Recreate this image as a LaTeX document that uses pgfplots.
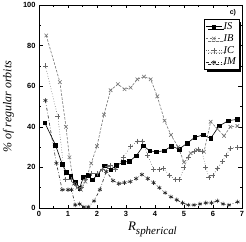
\documentclass[border=0pt]{standalone}
\usepackage{pgfplots}
\pgfplotsset{compat=1.18}
\usepackage{fontspec}
\setmainfont{Liberation Serif}
\newfontfamily\arial{Liberation Sans}
\usetikzlibrary{shadows}
\begin{document}
\begin{tikzpicture}
\path[use as bounding box] (-39bp,-34bp) rectangle (207bp,208bp);
\begin{axis}[
  scale only axis, width=203bp, height=203bp,
  xmin=0, xmax=7, ymin=0, ymax=100,
  xtick={0,1,...,7}, minor x tick num=1,
  ytick={0,20,...,100}, minor y tick num=1,
  tick align=inside, major tick length=3.5bp, minor tick length=2bp,
  tick style={black, line width=0.5pt},
  axis line style={line width=0.6pt},
  ticklabel style={font=\arial\bfseries\fontsize{7.5}{8}\selectfont},
  /pgf/number format/assume math mode=true,
  xlabel={\fontsize{13}{14}\selectfont\itshape R\textsubscript{\fontsize{11}{12}\selectfont spherical}},
  xlabel style={at={(axis description cs:0.56,-0.105)}, anchor=center},
  ylabel={\fontsize{12}{13}\selectfont\itshape \% of regular orbits},
  ylabel style={at={(axis description cs:-0.15,0.5)}, anchor=center},
  legend style={at={(0.985,0.93)}, anchor=north east, draw=black, fill=white,
    font=\fontsize{10.5}{11}\selectfont\itshape, row sep=0.5bp, inner sep=1.5bp,
    nodes={inner sep=1.5bp},
    /tikz/every even column/.style={column sep=0pt},
    drop shadow={shadow xshift=2.5bp, shadow yshift=-2.5bp, fill=black, opacity=1}},
  legend image code/.code={
    \draw[mark repeat=2,mark phase=2] plot coordinates {(0cm,0cm) (0.28cm,0cm) (0.56cm,0cm)};},
  legend cell align=left,
]
\addplot[black, line width=0.6pt, mark=square*, mark size=1.8bp, mark options={solid}] coordinates {
(0.2,42) (0.57,31) (0.8,21.6) (0.95,17.5) (1.1,15.6) (1.26,12.6) (1.4,9.8) (1.53,15.1) (1.69,16.1) (1.84,13.9) (2.02,16.4) (2.26,20.8) (2.47,18.9) (2.67,21) (2.9,22.6) (3.12,23) (3.36,25.8) (3.6,30.7) (3.82,28.1) (4.05,27.7) (4.32,28.2) (4.57,30.5) (4.83,29) (5.11,31.9) (5.37,34.8) (5.66,36) (5.92,34.3) (6.21,40.4) (6.53,43) (6.84,43.7)
};
\addlegendentry{IS}
\addplot[black!55, line width=0.6pt, dash pattern=on 2.5bp off 1.5bp, mark=x, mark size=2.5bp, mark options={solid}] coordinates {
(0.25,85) (0.72,62) (0.93,40) (1.05,25) (1.2,12) (1.32,10) (1.45,9) (1.6,13) (1.8,22) (2.0,30.5) (2.24,46) (2.47,58) (2.72,61) (2.95,58.5) (3.16,59.3) (3.39,63.4) (3.62,64.7) (3.85,63.4) (4.08,55) (4.33,43) (4.55,36) (4.8,30) (5.0,22.5) (5.23,27) (5.46,28.6) (5.69,27.7) (5.92,42.5) (6.15,39) (6.38,35.5) (6.6,40) (6.84,40.4)
};
\addlegendentry{IB}
\addplot[black!60, line width=0.6pt, dotted, mark=+, mark size=2.5bp, mark options={solid}] coordinates {
(0.22,70) (0.65,45) (0.9,14) (1.1,14) (1.3,11) (1.45,10) (1.6,14) (1.8,17) (2.0,17) (2.2,19) (2.35,20.5) (2.47,21) (2.64,19) (2.9,25) (3.16,30.2) (3.4,33) (3.56,33) (3.75,26) (3.95,19) (4.15,19) (4.3,19.5) (4.5,16) (4.7,14) (4.85,14) (5.0,20) (5.15,25) (5.35,28) (5.5,29) (5.62,28) (5.75,20) (5.86,15) (6.0,16) (6.15,19.5) (6.32,22.8) (6.45,26) (6.6,29.4) (6.85,30)
};
\addlegendentry{IC}
\addplot[black!85, line width=0.6pt, dash dot, mark=asterisk, mark size=2.2bp, mark options={solid}] coordinates {
(0.22,53) (0.6,22) (0.8,9) (1.0,9) (1.12,9) (1.25,1.5) (1.4,2) (1.55,0.5) (1.7,0.5) (1.9,3.5) (2.1,9) (2.32,18) (2.55,13.5) (2.75,12) (2.95,12.5) (3.15,13) (3.35,14.5) (3.55,16.5) (3.75,14.5) (3.95,12.5) (4.15,10) (4.35,7.5) (4.55,5.5) (4.75,4) (4.95,2.5) (5.15,1.5) (5.35,1.5) (5.55,2) (5.75,2.5) (5.95,2.5) (6.15,3.5) (6.35,2) (6.55,1.5) (6.85,3)
};
\addlegendentry{IM}
\node[font=\arial\bfseries\fontsize{7}{8}\selectfont, anchor=center] at (rel axis cs:0.955,0.962) {c)};
\end{axis}
\end{tikzpicture}
\end{document}
